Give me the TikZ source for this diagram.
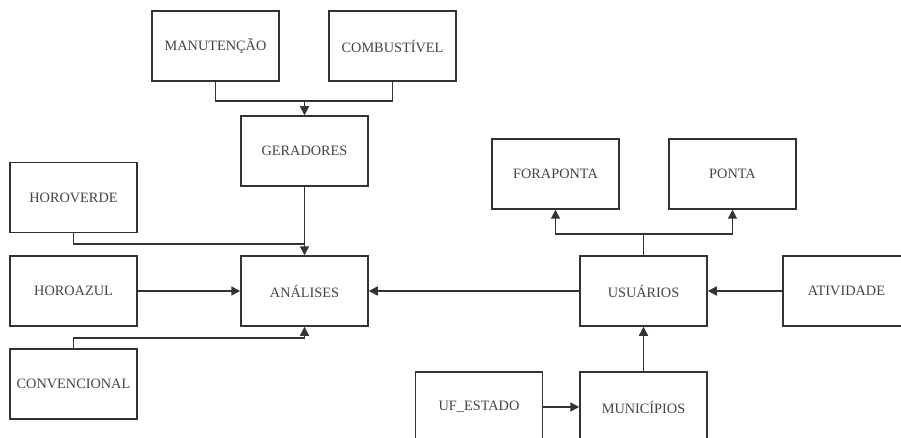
\documentclass[tikz,border=0pt]{standalone}
\usepackage{fontspec}
\setmainfont{Liberation Serif}
\usetikzlibrary{arrows.meta}
\definecolor{linegray}{HTML}{333333}
\definecolor{textgray}{HTML}{444444}
\begin{document}
\begin{tikzpicture}[x=1pt,y=-1pt,
  entity/.style={draw=linegray,line width=1.5pt,fill=white,
    minimum width=127pt,minimum height=70pt,inner sep=0pt,
    text=textgray,font=\fontsize{14.3}{16}\selectfont},
  link/.style={draw=linegray,line width=1.5pt},
  arr/.style={link,-{Triangle[length=9pt,width=9pt]}}]
\useasboundingbox (0,0) rectangle (901,438);
\clip (0,0) rectangle (901,438);
\fill[white] (0,0) rectangle (901,438);

% entity boxes
\node[entity] (man)   at (215.5,46)  {MANUTENÇÃO};
\node[entity] (comb)  at (392.5,46)  {COMBUSTÍVEL};
\node[entity] (ger)   at (304.5,151) {GERADORES};
\node[entity] (hv)    at (73.5,197.5){HOROVERDE};
\node[entity] (ha)    at (73.5,291)  {HOROAZUL};
\node[entity] (anal)  at (304.5,291) {ANÁLISES};
\node[entity] (conv)  at (73.5,384)  {CONVENCIONAL};
\node[entity] (fora)  at (555.5,174) {FORAPONTA};
\node[entity] (ponta) at (732.5,174) {PONTA};
\node[entity] (usu)   at (643.5,291) {USUÁRIOS};
\node[entity] (ativ)  at (846.5,291) {ATIVIDADE};
\node[entity] (uf)    at (479,407)   {UF\_ESTADO};
\node[entity] (mun)   at (643.5,407) {MUNICÍPIOS};

% junction points of the merged connectors
\coordinate (jA) at (304.5,101);
\coordinate (jB) at (304.5,244);
\coordinate (jC) at (304.5,338);
\coordinate (jD) at (643.5,234);

% inputs of GERADORES
\draw[link] (man.south) |- (jA);
\draw[link] (comb.south) |- (jA);
\draw[arr] (jA) -- (ger.north);

% inputs of ANÁLISES
\draw[link] (hv.south) |- (jB);
\draw[arr] (ger.south) -- (anal.north);
\draw[arr] (ha.east) -- (anal.west);
\draw[arr] (conv.north) |- (jC) -- (anal.south);
\draw[arr] (usu.west) -- (anal.east);

% around USUÁRIOS
\draw[link] (usu.north) -- (jD);
\draw[arr] (jD) -| (fora.south);
\draw[arr] (jD) -| (ponta.south);
\draw[arr] (ativ.west) -- (usu.east);
\draw[arr] (mun.north) -- (usu.south);
\draw[arr] (uf.east) -- (mun.west);
\end{tikzpicture}
\end{document}
